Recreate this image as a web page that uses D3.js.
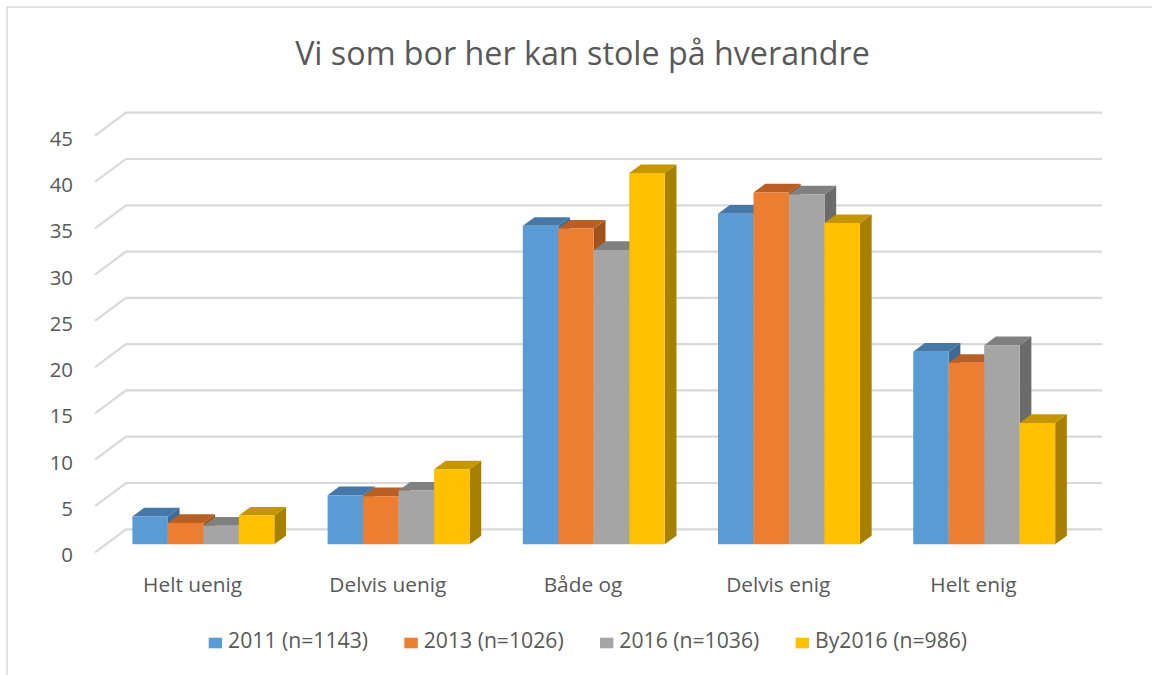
<!DOCTYPE html>
<html>
<head>
<meta charset="utf-8">
<script src="https://cdn.jsdelivr.net/npm/d3@7"></script>
<style>
  html, body { margin: 0; padding: 0; background: #fff; }
  svg { display: block; }
  text { font-family: "Open Sans", "Noto Sans", sans-serif; fill: #595959; }
</style>
</head>
<body>
<svg id="chart" width="1152" height="675"></svg>
<script>
// ---- data ----
const title = "Vi som bor her kan stole på hverandre";
const categories = ["Helt uenig", "Delvis uenig", "Både og", "Delvis enig", "Helt enig"];
const seriesNames = ["2011 (n=1143)", "2013 (n=1026)", "2016 (n=1036)", "By2016 (n=986)"];
const s2011   = [3.0, 5.3, 34.4, 35.7, 20.8];
const s2013   = [2.3, 5.2, 34.1, 38.0, 19.6];
const s2016   = [2.0, 5.8, 31.8, 37.8, 21.5];
const sBy2016 = [3.1, 8.1, 40.1, 34.7, 13.1];
const seriesValues = [s2011, s2013, s2016, sBy2016];
const yTicks = [0, 5, 10, 15, 20, 25, 30, 35, 40, 45];

// ---- styles ----
const faceColors = ["#5b9bd5", "#ed7d31", "#a5a5a5", "#ffc000"];
const topColors  = ["#4677a6", "#b95f25", "#808080", "#c59600"];
const sideColors = ["#3e6b94", "#a2521d", "#6b6b6b", "#a88000"];

const svg = d3.select("#chart");
svg.append("rect").attr("x", 7).attr("y", 7).attr("width", 1160).attr("height", 700)
  .attr("fill", "#fff").attr("stroke", "#d9d9d9").attr("stroke-width", 1.5);

// 3D projection parameters
const DX = 31, DY = 23;         // depth offset (front -> back)
const z0 = 0.348, z1 = 0.725;   // bar depth range

const x = d3.scaleBand().domain(categories).range([95, 1071]).paddingInner(0).paddingOuter(0);
const xs = d3.scaleBand().domain(d3.range(seriesNames.length)).range([0, x.bandwidth()])
  .paddingInner(0).paddingOuter(0.75);
const y = d3.scaleLinear().domain([0, 45]).range([552.3, 135.7]);

const P = (xf, v, z) => [xf + DX * z, y(v) - DY * z];
const poly = pts => pts.map(p => p.join(",")).join(" ");

// gridlines (left wall + back wall)
const grid = svg.append("g");
yTicks.forEach(t => {
  const a = P(95, t, 0), b = P(95, t, 1), c = P(1071, t, 1);
  grid.append("polyline").attr("points", poly([a, b, c]))
    .attr("fill", "none").attr("stroke", "#d9d9d9").attr("stroke-width", 2.2);
});

// y tick labels
const yl = svg.append("g");
yTicks.forEach(t => {
  yl.append("text").attr("x", 73).attr("y", y(t) + 10).attr("text-anchor", "end")
    .attr("class", "ytick").text(t);
});

// bars
const bars = svg.append("g");
categories.forEach((c, ci) => {
  seriesValues.forEach((vals, si) => {
    const v = vals[ci];
    const x0 = x(c) + xs(si), w = xs.bandwidth();
    const g = bars.append("g");
    g.append("polygon").attr("points", poly([P(x0 + w, 0, z0), P(x0 + w, 0, z1), P(x0 + w, v, z1), P(x0 + w, v, z0)]))
      .attr("fill", sideColors[si]);
    g.append("polygon").attr("points", poly([P(x0, v, z0), P(x0 + w, v, z0), P(x0 + w, v, z1), P(x0, v, z1)]))
      .attr("fill", topColors[si]);
    g.append("polygon").attr("points", poly([P(x0, 0, z0), P(x0 + w, 0, z0), P(x0 + w, v, z0), P(x0, v, z0)]))
      .attr("fill", faceColors[si]);
  });
});

// category labels
const cl = svg.append("g");
categories.forEach(c => {
  cl.append("text").attr("x", x(c) + x.bandwidth() / 2).attr("y", 591.7)
    .attr("text-anchor", "middle").attr("class", "cat").text(c);
});

// title
const tt = svg.append("text").attr("x", 582.5).attr("y", 65.4).attr("text-anchor", "middle")
  .style("font-size", "30px").text(title);

// font fitting helper
function fitSize(sel, refNode, target, base) {
  sel.style("font-size", base + "px");
  const w = refNode.getComputedTextLength();
  const s = base * target / w;
  sel.style("font-size", s + "px");
  return s;
}
fitSize(tt, tt.node(), 575, 30);
const catSel = cl.selectAll("text");
fitSize(catSel, catSel.nodes()[1], 117, 20);
const ySel = yl.selectAll("text");
fitSize(ySel, ySel.nodes()[9], 23.4, 20);

// legend
const lg = svg.append("g");
const items = seriesNames.map((n, i) => {
  const g = lg.append("g");
  g.append("rect").attr("width", 13.4).attr("height", 10.6).attr("y", 637.7).attr("fill", faceColors[i]);
  const t = g.append("text").attr("y", 648).text(n);
  return { g, t };
});
const legTexts = lg.selectAll("text");
fitSize(legTexts, legTexts.nodes()[0], 140, 20);
const widths = items.map(it => 13.4 + 6 + it.t.node().getComputedTextLength());
const gap = 36.3;
const total = d3.sum(widths) + gap * (widths.length - 1);
let cx = 587.9 - total / 2;
items.forEach((it, i) => {
  it.g.select("rect").attr("x", cx);
  it.t.attr("x", cx + 19.4);
  cx += widths[i] + gap;
});
</script>
</body>
</html>
